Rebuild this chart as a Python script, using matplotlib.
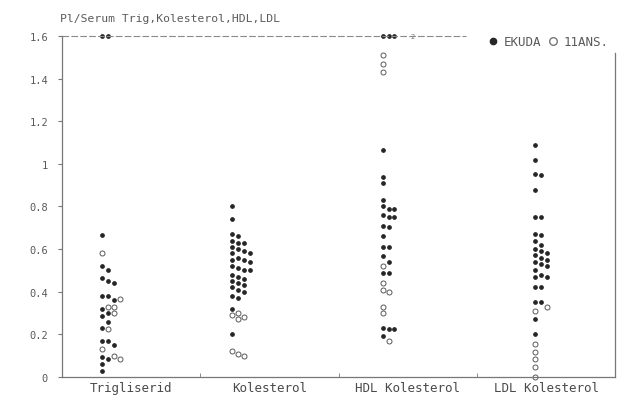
import matplotlib
matplotlib.use("Agg")
import matplotlib.pyplot as plt
from matplotlib.lines import Line2D
import numpy as np

# category labels
categories = ["Trigliserid", "Kolesterol", "HDL Kolesterol", "LDL Kolesterol"]

# values (filled = EKUDA, open = 11ANS.)
trig_filled = [1.6, 1.6, 0.667, 0.52, 0.50, 0.465, 0.45, 0.44, 0.38, 0.38, 0.36,
               0.317, 0.30, 0.286, 0.26, 0.23, 0.17, 0.17, 0.15, 0.093, 0.084,
               0.06, 0.03]
trig_open = [0.58, 0.364, 0.33, 0.33, 0.30, 0.224, 0.13, 0.10, 0.084]

kol_filled = [0.80, 0.74, 0.67, 0.66, 0.64, 0.63, 0.63, 0.61, 0.60, 0.59, 0.58,
              0.58, 0.56, 0.55, 0.55, 0.54, 0.52, 0.51, 0.50, 0.50, 0.48, 0.47,
              0.46, 0.45, 0.44, 0.43, 0.42, 0.41, 0.40, 0.38, 0.37, 0.32, 0.20]
kol_open = [0.30, 0.29, 0.28, 0.27, 0.12, 0.11, 0.10]

hdl_filled = [1.6, 1.6, 1.6, 1.063, 0.94, 0.91, 0.83, 0.80, 0.79, 0.79, 0.76,
              0.75, 0.75, 0.71, 0.705, 0.66, 0.61, 0.61, 0.566, 0.54, 0.49,
              0.49, 0.23, 0.224, 0.224, 0.19]
hdl_open = [1.51, 1.47, 1.43, 0.52, 0.44, 0.41, 0.40, 0.33, 0.30, 0.17]

ldl_filled = [1.087, 1.017, 0.95, 0.947, 0.877, 0.75, 0.75, 0.67, 0.667, 0.64,
              0.62, 0.60, 0.59, 0.58, 0.57, 0.56, 0.55, 0.54, 0.53, 0.52, 0.50,
              0.48, 0.47, 0.47, 0.42, 0.42, 0.35, 0.35, 0.27, 0.20]
ldl_open = [0.33, 0.31, 0.154, 0.117, 0.084, 0.047, 0.0]

filled = [trig_filled, kol_filled, hdl_filled, ldl_filled]
opened = [trig_open, kol_open, hdl_open, ldl_open]

# column start inside each category band
col_start = [0.29, 0.23, 0.32, 0.42]

yticks = [0, 0.2, 0.4, 0.6, 0.8, 1, 1.2, 1.4, 1.6]
ytick_labels = ["0", "0.2", "0.4", "0.6", "0.8", "1", "1.2", "1.4", "1.6"]


def dodge(groups, base, slot=0.042, tol=0.026):
    # put each point in the first free slot so dots don't overlap
    placed = []
    out = []
    for vals in groups:
        xs = []
        for v in vals:
            k = 0
            while any(kk == k and abs(v - pv) < tol for kk, pv in placed):
                k += 1
            placed.append((k, v))
            xs.append(base + k * slot)
        out.append(np.array(xs))
    return out


mono = "DejaVu Sans Mono"
ink = "#262626"
grey = "#777777"

fig = plt.figure(figsize=(6.23, 4.06), dpi=100)
ax = fig.add_axes([0.0995, 0.069, 0.888, 0.84])

for i in range(len(categories)):
    xf, xo = dodge([filled[i], opened[i]], i + col_start[i])
    ax.plot(xf, filled[i], "o", ms=2.4, color=ink, mec=ink, clip_on=False)
    ax.plot(xo, opened[i], "o", ms=3.6, mfc="white", mec="#5a5a5a",
            mew=0.7, clip_on=False)

ax.set_xlim(0, 4)
ax.set_ylim(0, 1.6)
ax.set_yticks(yticks)
ax.set_yticklabels(ytick_labels, family=mono, fontsize=7.5, color="#5a5a5a")
ax.set_xticks(np.arange(len(categories)) + 0.5)
ax.set_xticklabels(categories, family=mono, fontsize=9, color="#4a4a4a")
ax.set_xticks([1, 2, 3], minor=True)
ax.tick_params(axis="x", which="major", length=0, pad=3)
ax.tick_params(axis="x", which="minor", direction="in", length=3, color=grey)
ax.tick_params(axis="y", length=3, color=grey, pad=7)

for s in ["left", "bottom", "right"]:
    ax.spines[s].set_color(grey)
    ax.spines[s].set_linewidth(0.9)
ax.spines["top"].set_visible(False)
ax.spines["right"].set_bounds(0, 1.52)
ax.axhline(1.6, xmin=0, xmax=0.73, color="#8a8a8a", lw=0.8,
           ls=(0, (6, 2)), clip_on=False)

ax.text(2.52, 1.6, "2", fontsize=5, family=mono, color=grey, va="center")

fig.text(0.097, 0.945, "Pl/Serum Trig,Kolesterol,HDL,LDL", family=mono,
         fontsize=8.2, color="#5a5a5a", va="baseline")

handles = [Line2D([], [], ls="", marker="o", ms=4.5, color=ink),
           Line2D([], [], ls="", marker="o", ms=5.5, mfc="white", mec="#777777")]
ax.legend(handles, ["EKUDA", "11ANS."], ncol=2, frameon=False,
          loc="upper right", bbox_to_anchor=(1.008, 1.035),
          handlelength=0.8, handletextpad=0.4, columnspacing=0.6,
          prop={"family": mono, "size": 9}, labelcolor="#5a5a5a")

fig.savefig("out.png", dpi=100, facecolor="white")
